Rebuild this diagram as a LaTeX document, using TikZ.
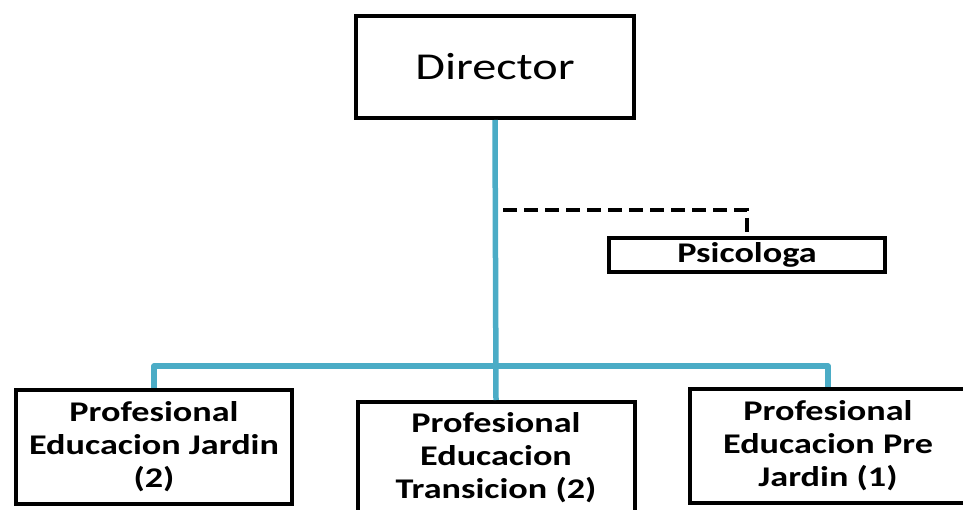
\documentclass[tikz,border=0pt]{standalone}
\usepackage{fontspec}
\setmainfont{Carlito}[FakeStretch=1.27]
\definecolor{bluelink}{HTML}{4BACC6}
\begin{document}
\begin{tikzpicture}[x=1pt,y=-1pt,
  box/.style={draw=black,line width=4pt,fill=white,inner sep=0pt,align=center},
  lbl/.style={font=\fontsize{28.5}{33}\selectfont\bfseries},
  link/.style={draw=bluelink,line width=5.5pt,line join=round},
  dlink/.style={draw=black,line width=4pt,dash pattern=on 14pt off 7pt}]
\useasboundingbox (0,0) rectangle (963,510);
\node[box,minimum width=278pt,minimum height=102pt,font=\fontsize{38}{44}\selectfont] (dir) at (495,67) {Director};
\node[box,lbl,minimum width=276pt,minimum height=34pt] (psi) at (747,255) {Psicologa};
\node[box,lbl,minimum width=276pt,minimum height=114pt] (left) at (154,447) {Profesional\\Educacion Jardin\\(2)};
\node[box,lbl,minimum width=277pt,minimum height=112pt] (mid) at (496,458) {Profesional\\Educacion\\Transicion (2)};
\node[box,lbl,minimum width=276pt,minimum height=114pt] (right) at (828,446) {Profesional\\Educacion Pre\\Jardin (1)};
\coordinate (bus) at (495,366);
\coordinate (dstart) at (503,210);
\path[link] (left.north) |- (bus) -| (right.north);
\path[link] (dir.south) -- (mid.north);
\path[dlink] (dstart) -| (psi.north);
\end{tikzpicture}
\end{document}
